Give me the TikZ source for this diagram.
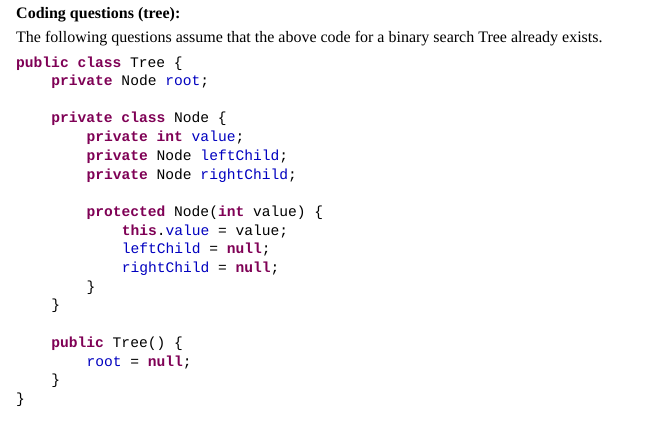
\documentclass[tikz,border=0pt]{standalone}
\usepackage{fontspec}
\setmainfont{Liberation Serif}
\newfontfamily\codefont{Liberation Mono}
\definecolor{kw}{HTML}{7F0055}
\definecolor{fld}{HTML}{0000C0}
\newcommand{\K}[1]{\textcolor{kw}{\bfseries #1}}
\newcommand{\F}[1]{\textcolor{fld}{#1}}
\tikzset{code/.style={anchor=base west,inner sep=0pt,font=\codefont\fontsize{14.6}{16}\selectfont},
txt/.style={anchor=base west,inner sep=0pt,font=\fontsize{16}{18}\selectfont}}
\begin{document}
\begin{tikzpicture}[x=1pt,y=-1pt]
\useasboundingbox[fill=white] (0,0) rectangle (657,423);
\node[txt,font=\bfseries\fontsize{16}{18}\selectfont] (t1) at (16,18) {Coding questions (tree):};
\node[txt] (t2) at (16,42) {The following questions assume that the above code for a binary search Tree already exists.};
\def\cw{8.8}
\node[code] (l1) at (16,67) {\K{public} \K{class} Tree \{};
\node[code] (l2) at (16+4*\cw,85) {\K{private} Node \F{root};};
\node[code] (l3) at (16+4*\cw,122) {\K{private} \K{class} Node \{};
\node[code] (l4) at (16+8*\cw,141) {\K{private} \K{int} \F{value};};
\node[code] (l5) at (16+8*\cw,160) {\K{private} Node \F{leftChild};};
\node[code] (l6) at (16+8*\cw,179) {\K{private} Node \F{rightChild};};
\node[code] (l7) at (16+8*\cw,216) {\K{protected} Node(\K{int} value) \{};
\node[code] (l8) at (16+12*\cw,235) {\K{this}.\F{value} = value;};
\node[code] (l9) at (16+12*\cw,253) {\F{leftChild} = \K{null};};
\node[code] (l10) at (16+12*\cw,272) {\F{rightChild} = \K{null};};
\node[code] (l11) at (16+8*\cw,291) {\}};
\node[code] (l12) at (16+4*\cw,309) {\}};
\node[code] (l13) at (16+4*\cw,347) {\K{public} Tree() \{};
\node[code] (l14) at (16+8*\cw,366) {\F{root} = \K{null};};
\node[code] (l15) at (16+4*\cw,384) {\}};
\node[code] (l16) at (16,403) {\}};
\end{tikzpicture}
\end{document}
